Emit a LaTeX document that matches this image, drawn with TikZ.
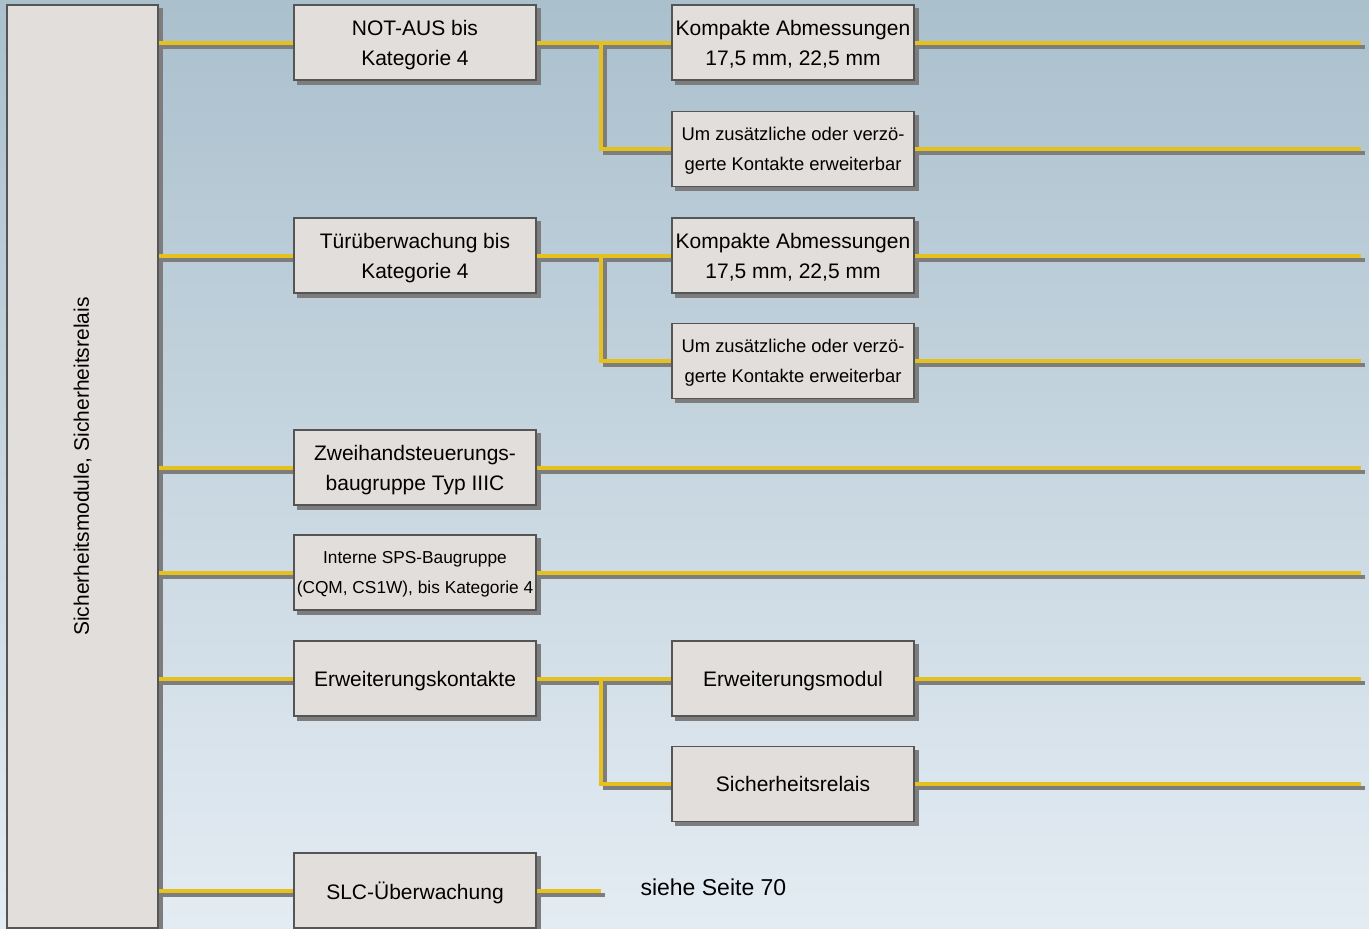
\documentclass[tikz,border=0pt]{standalone}
\usepackage{fontspec}
\setmainfont{Liberation Sans}
\usetikzlibrary{backgrounds, positioning}

\definecolor{bgtop}{RGB}{170,192,205}
\definecolor{bgbottom}{RGB}{228,236,243}
\definecolor{boxfill}{RGB}{226,222,219}
\definecolor{boxline}{RGB}{85,85,85}
\definecolor{shadowgrey}{RGB}{125,125,125}
\definecolor{wireyellow}{RGB}{229,193,32}

\pgfdeclarelayer{bg}
\pgfdeclarelayer{shade}
\pgfsetlayers{bg,shade,background,main}

\tikzset{
    modbox/.style={draw=boxline, fill=boxfill, line width=1.2pt, inner sep=0pt,
        minimum width=242pt, minimum height=75pt, align=center, text depth=0pt,
        font=\fontsize{21}{30}\selectfont},
    smalltext/.style={font=\fontsize{18.4}{30}\selectfont},
    wire/.style={draw=wireyellow, line width=4pt,
        preaction={draw=shadowgrey, line width=4pt, transform canvas={xshift=4pt, yshift=-4pt}}},
}

\begin{document}
\begin{tikzpicture}[x=1pt, y=-1pt]
    \useasboundingbox (0,0) rectangle (1369,929);
    \begin{pgfonlayer}{bg}
        \shade[top color=bgtop, bottom color=bgbottom] (0,0) rectangle (1369,929);
    \end{pgfonlayer}

    % Hauptblock
    \node[modbox, minimum width=151pt, minimum height=923pt] (main) at (82.5,466.5)
        {\rotatebox{90}{Sicherheitsmodule, Sicherheitsrelais}};

    % Gruppen
    \node[modbox] (notaus) at (415,42.5) {NOT-AUS bis\\Kategorie 4};
    \node[modbox] (tuer) at (415,255.5) {Türüberwachung bis\\Kategorie 4};
    \node[modbox] (zweihand) at (415,467.5) {Zweihandsteuerungs-\\baugruppe Typ IIIC};
    \node[modbox, font=\fontsize{17.3}{30}\selectfont] (sps) at (415,572.5) {Interne SPS-Baugruppe\\(CQM, CS1W), bis Kategorie 4};
    \node[modbox] (erwk) at (415,678.5) {Erweiterungskontakte};
    \node[modbox] (slc) at (415,890.5) {SLC-Überwachung};

    % Merkmale
    \node[modbox] (kompa) at (793,42.5) {Kompakte Abmessungen\\17,5 mm, 22,5 mm};
    \node[modbox, smalltext] (zusa) at (793,149) {Um zusätzliche oder verzö-\\gerte Kontakte erweiterbar};
    \node[modbox] (kompb) at (793,255.5) {Kompakte Abmessungen\\17,5 mm, 22,5 mm};
    \node[modbox, smalltext] (zusb) at (793,361) {Um zusätzliche oder verzö-\\gerte Kontakte erweiterbar};
    \node[modbox] (erwm) at (793,678.5) {Erweiterungsmodul};
    \node[modbox] (sirel) at (793,784) {Sicherheitsrelais};

    \coordinate (br) at (601,0);
    \coordinate (rim) at (1361,0);
    \coordinate (slcend) at (601,890.5);
    \node[anchor=west, font=\fontsize{23}{26}\selectfont] (seite) at (637,887) {siehe Seite 70};

    % Schatten
    \begin{pgfonlayer}{shade}
        \foreach \n in {main,notaus,tuer,zweihand,sps,erwk,slc,kompa,zusa,kompb,zusb,erwm,sirel}
            \fill[shadowgrey] ([shift={(4,4)}]\n.north west) rectangle ([shift={(4,4)}]\n.south east);
    \end{pgfonlayer}

    % Leitungen
    \begin{pgfonlayer}{background}
        \foreach \n in {notaus,tuer,zweihand,sps,erwk,slc}
            \draw[wire] (main.east |- \n.west) -- (\n.west);
        \draw[wire] (notaus.east) -- (kompa.west);
        \draw[wire] (notaus.east -| br) |- (zusa.west);
        \draw[wire] (tuer.east) -- (kompb.west);
        \draw[wire] (tuer.east -| br) |- (zusb.west);
        \draw[wire] (erwk.east) -- (erwm.west);
        \draw[wire] (erwk.east -| br) |- (sirel.west);
        \draw[wire] (slc.east) -- (slcend);
        \foreach \n in {kompa,zusa,kompb,zusb,zweihand,sps,erwm,sirel}
            \draw[wire] (\n.east) -- (\n.east -| rim);
    \end{pgfonlayer}
\end{tikzpicture}
\end{document}
